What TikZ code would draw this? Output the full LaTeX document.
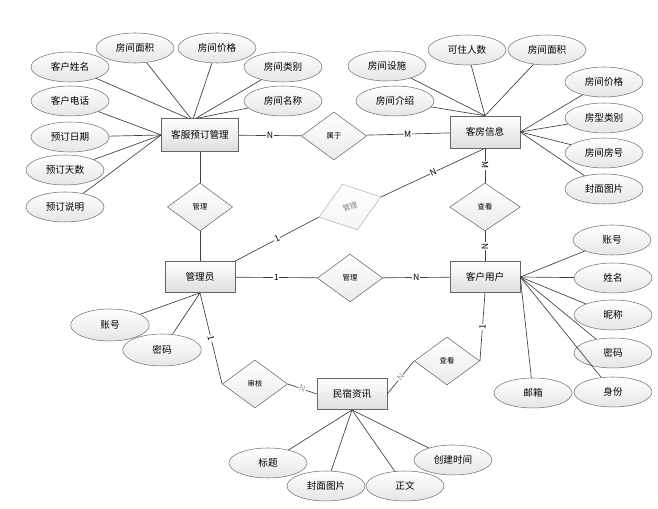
\documentclass[tikz,border=0pt]{standalone}
\usepackage{fontspec}
\setmainfont{Noto Sans CJK SC}
\usepackage{tikz}
\usetikzlibrary{shapes.geometric}

\tikzset{
entity/.style={draw=black!60, top color=white, bottom color=black!13, minimum width=52.5pt, minimum height=23.5pt, inner sep=0pt, font=\fontsize{7.2}{9}\selectfont},
attr/.style={ellipse, draw=black!55, top color=white, bottom color=black!10, minimum width=58.5pt, minimum height=22.5pt, inner sep=0pt, font=\fontsize{7.2}{9}\selectfont},
rel/.style={diamond, draw=black!60, top color=white, bottom color=black!8, minimum width=49pt, minimum height=36pt, inner sep=0pt, font=\fontsize{5.5}{6}\selectfont},
lnk/.style={draw=black!75, line width=0.5pt},
card/.style={fill=white, inner sep=0.5pt, font=\fontsize{6.5}{7}\selectfont}
}

\begin{document}
\begin{tikzpicture}[x=0.75pt,y=-0.75pt]
\useasboundingbox (0,0) rectangle (658,509);

% Entitaeten
\node[entity, minimum width=57.75pt, minimum height=24.75pt] (kfyd) at (200,135) {客服预订管理};
\node[entity, minimum height=24pt] (kfxx) at (485,132) {客房信息};
\node[entity] (gly) at (200,277) {管理员};
\node[entity] (khyh) at (485,277) {客户用户};
\node[entity] (msxx) at (352,394) {民宿资讯};

% Beziehungen
\node[rel] (sy) at (334,136) {属于};
\node[rel] (gl1) at (200,207) {管理};
\node[rel, draw=black!30, text=black!50, bottom color=black!4, rotate=18] (gl2) at (350,207) {管理};
\node[rel] (gl3) at (350,278) {管理};
\node[rel, minimum width=53pt] (ck1) at (485,207) {查看};
\node[rel] (sh) at (255,384) {审核};
\node[rel] (ck2) at (447,361) {查看};

% Attribute Kundenservice-Buchung
\node[attr] (kfyd1) at (70,67) {客户姓名};
\node[attr] (kfyd2) at (135,48) {房间面积};
\node[attr] (kfyd3) at (217,48) {房间价格};
\node[attr] (kfyd4) at (283,67) {房间类别};
\node[attr] (kfyd5) at (283,101) {房间名称};
\node[attr] (kfyd6) at (70,101) {客户电话};
\node[attr] (kfyd7) at (70,137) {预订日期};
\node[attr] (kfyd8) at (65,170) {预订天数};
\node[attr] (kfyd9) at (65,207) {预订说明};

% Attribute Zimmer
\node[attr] (kfxx1) at (387,66) {房间设施};
\node[attr] (kfxx2) at (467,50) {可住人数};
\node[attr] (kfxx3) at (547,50) {房间面积};
\node[attr] (kfxx4) at (395,101) {房间介绍};
\node[attr] (kfxx5) at (604,82) {房间价格};
\node[attr] (kfxx6) at (604,118) {房型类别};
\node[attr] (kfxx7) at (604,153) {房间房号};
\node[attr] (kfxx8) at (604,189) {封面图片};

% Attribute Verwalter
\node[attr, minimum width=59pt, minimum height=24pt] (gly1) at (110,325) {账号};
\node[attr, minimum width=59pt, minimum height=24pt] (gly2) at (162,350) {密码};

% Attribute Kunde
\node[attr] (khyh1) at (612,240) {账号};
\node[attr] (khyh2) at (613,278) {姓名};
\node[attr] (khyh3) at (613,315) {昵称};
\node[attr] (khyh4) at (613,353) {密码};
\node[attr] (khyh5) at (613,392) {身份};
\node[attr] (khyh6) at (533,393) {邮箱};

% Attribute Info
\node[attr] (msxx1) at (268,463) {标题};
\node[attr] (msxx2) at (326,486) {封面图片};
\node[attr] (msxx3) at (405,486) {正文};
\node[attr] (msxx4) at (453,460) {创建时间};

% Linien
\draw[lnk] (kfyd1) -- ([xshift=-9pt]kfyd.north);
\draw[lnk] (kfyd2) -- ([xshift=-7pt]kfyd.north);
\draw[lnk] (kfyd3) -- ([xshift=-5pt]kfyd.north);
\draw[lnk] (kfyd4) -- ([xshift=-3pt]kfyd.north);
\draw[lnk] (kfyd5) -- ([xshift=-2pt]kfyd.north);
\draw[lnk] (kfyd6) -- (kfyd.west);
\draw[lnk] (kfyd7) -- (kfyd.west);
\draw[lnk] (kfyd8) -- (kfyd.west);
\draw[lnk] (kfyd9) -- (kfyd.west);

\draw[lnk] (kfxx1) -- (kfxx.north);
\draw[lnk] (kfxx2) -- (kfxx.north);
\draw[lnk] (kfxx3) -- (kfxx.north);
\draw[lnk] (kfxx4) -- (kfxx.north);
\draw[lnk] (kfxx5) -- (kfxx.east);
\draw[lnk] (kfxx6) -- (kfxx.east);
\draw[lnk] (kfxx7) -- (kfxx.east);
\draw[lnk] (kfxx8) -- (kfxx.east);

\draw[lnk] (gly1) -- (gly.south);
\draw[lnk] (gly2) -- (gly.south);

\draw[lnk] (khyh1) -- (khyh.east);
\draw[lnk] (khyh2) -- (khyh.east);
\draw[lnk] (khyh3) -- (khyh.east);
\draw[lnk] (khyh4) -- (khyh.east);
\draw[lnk] (khyh5) -- (khyh.east);
\draw[lnk] (khyh6) -- (khyh.east);

\draw[lnk] (msxx1) -- (msxx.south);
\draw[lnk] (msxx2) -- (msxx.south);
\draw[lnk] (msxx3) -- (msxx.south);
\draw[lnk] (msxx4) -- (msxx.south);

% Beziehungslinien
\draw[lnk] (kfyd) -- node[card]{N} (sy);
\draw[lnk] (sy) -- node[card]{M} (kfxx);
\draw[lnk] (kfyd) -- (gl1);
\draw[lnk] (gl1) -- (gly);
\draw[lnk] (gly.north east) -- node[card, sloped]{1} (gl2.west);
\draw[lnk] (gl2.east) -- node[card, sloped]{N} (kfxx.south);
\draw[lnk] (kfxx.south) -- node[card, sloped]{M} (ck1);
\draw[lnk] (ck1) -- node[card, sloped]{N} (khyh);
\draw[lnk] (gly) -- node[card]{1} (gl3);
\draw[lnk] (gl3) -- node[card]{N} (khyh);
\draw[lnk] (gly.south) -- node[card, sloped]{1} (sh.west);
\draw[lnk] (sh.east) -- node[card, sloped, text=black!40]{N} (msxx.west);
\draw[lnk] (khyh.south) -- node[card, sloped]{1} (ck2.east);
\draw[lnk] (ck2.west) -- node[card, sloped, text=black!40]{N} (msxx.east);
\end{tikzpicture}
\end{document}
